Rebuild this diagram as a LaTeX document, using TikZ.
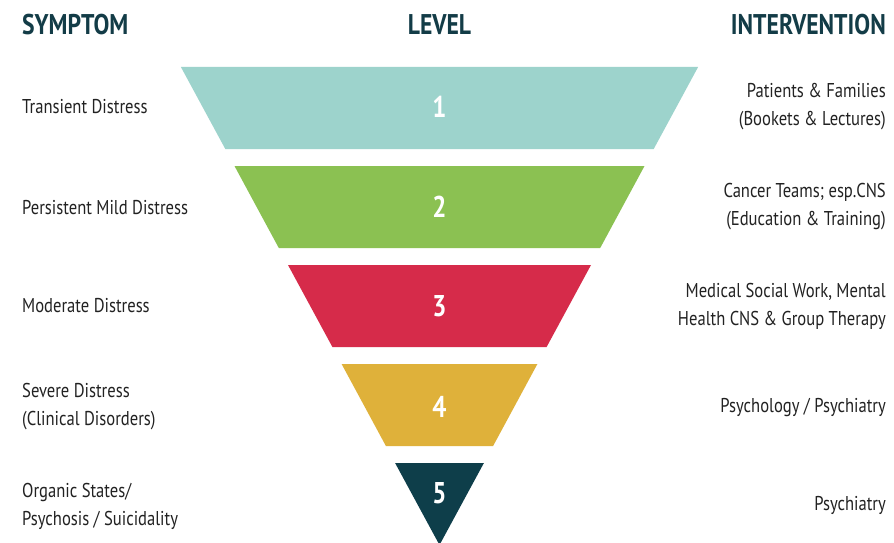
\documentclass[tikz,border=0pt]{standalone}
\usepackage{fontspec}
\setmainfont{PT Sans}[FakeStretch=0.83]
\definecolor{hdr}{HTML}{133C47}
\definecolor{txt}{HTML}{222222}
\definecolor{cA}{HTML}{9DD3CC}
\definecolor{cB}{HTML}{8BC152}
\definecolor{cC}{HTML}{D62B4A}
\definecolor{cD}{HTML}{DFB13A}
\definecolor{cE}{HTML}{0E3E4A}
\begin{document}
\begin{tikzpicture}[x=1pt,y=-1pt,
  header/.style={font=\fontsize{28.5}{30}\selectfont\bfseries, text=hdr, inner sep=0pt},
  lbl/.style={font=\fontsize{20}{28}\selectfont, text=txt, inner sep=0pt},
  num/.style={font=\fontsize{30}{32}\selectfont\bfseries, text=white, inner sep=0pt}]
\useasboundingbox (0,0) rectangle (894,543);
\fill[white] (0,0) rectangle (894,543);
% bands
\fill[cA] (180.9,67) -- (698.1,67) -- (653.7,149) -- (225.3,149) -- cycle;
\fill[cB] (234.5,166) -- (644.5,166) -- (600.2,248) -- (278.8,248) -- cycle;
\fill[cC] (288,265) -- (591,265) -- (546.6,347) -- (332.4,347) -- cycle;
\fill[cD] (341.6,364) -- (537.4,364) -- (493.1,446) -- (385.9,446) -- cycle;
\fill[cE] (395.1,463) -- (483.9,463) -- (439.5,545) -- cycle;
% numbers
\node[num] (n1) at (439.5,107) {1};
\node[num] (n2) at (439.5,207) {2};
\node[num] (n3) at (439.5,306) {3};
\node[num] (n4) at (439.5,407) {4};
\node[num] (n5) at (439.5,493) {5};
% headers
\node[header, anchor=west] (hs) at (22,25) {SYMPTOM};
\node[header] (hl) at (439.5,25) {LEVEL};
\node[header, anchor=east] (hi) at (886,25) {INTERVENTION};
% symptoms
\node[lbl, anchor=west] (s1) at (22,107) {Transient Distress};
\node[lbl, anchor=west] (s2) at (22,208) {Persistent Mild Distress};
\node[lbl, anchor=west] (s3) at (22,306) {Moderate Distress};
\node[lbl, anchor=west, align=left] (s4) at (22,407) {Severe Distress\\(Clinical Disorders)};
\node[lbl, anchor=west, align=left] (s5) at (22,506) {Organic States/\\Psychosis / Suicidality};
% interventions
\node[lbl, anchor=east, align=right] (i1) at (886,107) {Patients \& Families\\(Bookets \& Lectures)};
\node[lbl, anchor=east, align=right] (i2) at (886,207) {Cancer Teams; esp.CNS\\(Education \& Training)};
\node[lbl, anchor=east, align=right] (i3) at (886,306) {Medical Social Work, Mental\\Health CNS \& Group Therapy};
\node[lbl, anchor=east] (i4) at (886,407) {Psychology / Psychiatry};
\node[lbl, anchor=east] (i5) at (886,505) {Psychiatry};
\end{tikzpicture}
\end{document}
